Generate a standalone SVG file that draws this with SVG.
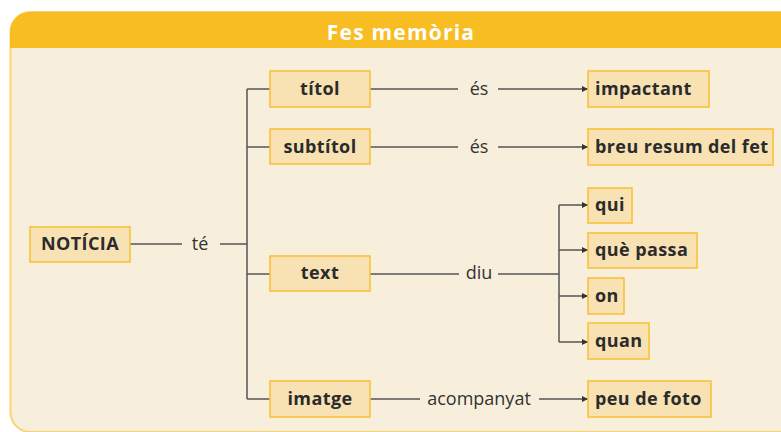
<svg xmlns="http://www.w3.org/2000/svg" width="781" height="432" viewBox="0 0 781 432">
<defs>
<style>
.box{fill:#F8E2B4;stroke:#F8C23A;stroke-width:1.6}
.nt{font-family:"Open Sans","Noto Sans",sans-serif;font-weight:bold;font-size:18px;fill:#2b2b2b;letter-spacing:0.4px}
.lb{font-family:"Open Sans","Noto Sans",sans-serif;font-size:18px;fill:#333;text-anchor:middle}
.ln{fill:none;stroke:#555;stroke-width:1.5}
</style>
<marker id="ar" viewBox="0 0 10 10" refX="10" refY="5" markerWidth="6" markerHeight="6" markerUnits="userSpaceOnUse" orient="auto"><path d="M0,0 L10,5 L0,10 z" fill="#333"/></marker>
</defs>
<rect x="0" y="0" width="781" height="432" fill="#fff"/>
<rect x="10.5" y="12" width="800" height="420" rx="20" fill="#F7EFDC" stroke="#FCD36C" stroke-width="2"/>
<path d="M10,48 V32 A20,20 0 0 1 30,12 H781 V48 Z" fill="#F7BD22"/>
<text x="401" y="40" text-anchor="middle" font-family="'Open Sans','Noto Sans',sans-serif" font-weight="bold" font-size="21" letter-spacing="1.2" fill="#fff">Fes memòria</text>

<g id="connectors">
<path class="ln" d="M130,244 H182 M220,244 H247"/>
<path class="ln" d="M247,89 V399 M247,89 H270 M247,147 H270 M247,274 H270 M247,399 H270"/>
<path class="ln" d="M370,89 H458"/><path class="ln" d="M498,89 H588" marker-end="url(#ar)"/>
<path class="ln" d="M370,147 H458"/><path class="ln" d="M498,147 H588" marker-end="url(#ar)"/>
<path class="ln" d="M370,274 H459 M498,274 H559 M559,205 V342"/>
<path class="ln" d="M559,205 H588" marker-end="url(#ar)"/>
<path class="ln" d="M559,250 H588" marker-end="url(#ar)"/>
<path class="ln" d="M559,296 H588" marker-end="url(#ar)"/>
<path class="ln" d="M559,342 H588" marker-end="url(#ar)"/>
<path class="ln" d="M370,399 H420"/><path class="ln" d="M539,399 H588" marker-end="url(#ar)"/>
<text class="lb" x="200" y="250">té</text>
<text class="lb" x="479" y="95">és</text>
<text class="lb" x="479" y="153">és</text>
<text class="lb" x="479" y="279">diu</text>
<text class="lb" x="479" y="405">acompanyat</text>
</g>

<g id="noticia"><rect class="box" x="30" y="227" width="100" height="35"/><text class="nt" x="80" y="250" text-anchor="middle">NOTÍCIA</text></g>
<g id="titol"><rect class="box" x="270" y="71" width="100" height="36"/><text class="nt" x="320" y="95" text-anchor="middle">títol</text></g>
<g id="subtitol"><rect class="box" x="270" y="129" width="100" height="35"/><text class="nt" x="320" y="153" text-anchor="middle">subtítol</text></g>
<g id="text"><rect class="box" x="270" y="256" width="100" height="35"/><text class="nt" x="320" y="279" text-anchor="middle">text</text></g>
<g id="imatge"><rect class="box" x="270" y="381" width="100" height="36"/><text class="nt" x="320" y="405" text-anchor="middle">imatge</text></g>
<g id="impactant"><rect class="box" x="588" y="71" width="121" height="36"/><text class="nt" x="595" y="95">impactant</text></g>
<g id="breu"><rect class="box" x="588" y="129" width="185" height="36"/><text class="nt" x="595" y="153">breu resum del fet</text></g>
<g id="qui"><rect class="box" x="588" y="188" width="44" height="35"/><text class="nt" x="595" y="211">qui</text></g>
<g id="que"><rect class="box" x="588" y="233" width="109" height="35"/><text class="nt" x="595" y="256">què passa</text></g>
<g id="on"><rect class="box" x="588" y="278" width="36" height="36"/><text class="nt" x="595" y="302">on</text></g>
<g id="quan"><rect class="box" x="588" y="323" width="61" height="36"/><text class="nt" x="595" y="347">quan</text></g>
<g id="peu"><rect class="box" x="588" y="381" width="123" height="36"/><text class="nt" x="595" y="405">peu de foto</text></g>
</svg>
